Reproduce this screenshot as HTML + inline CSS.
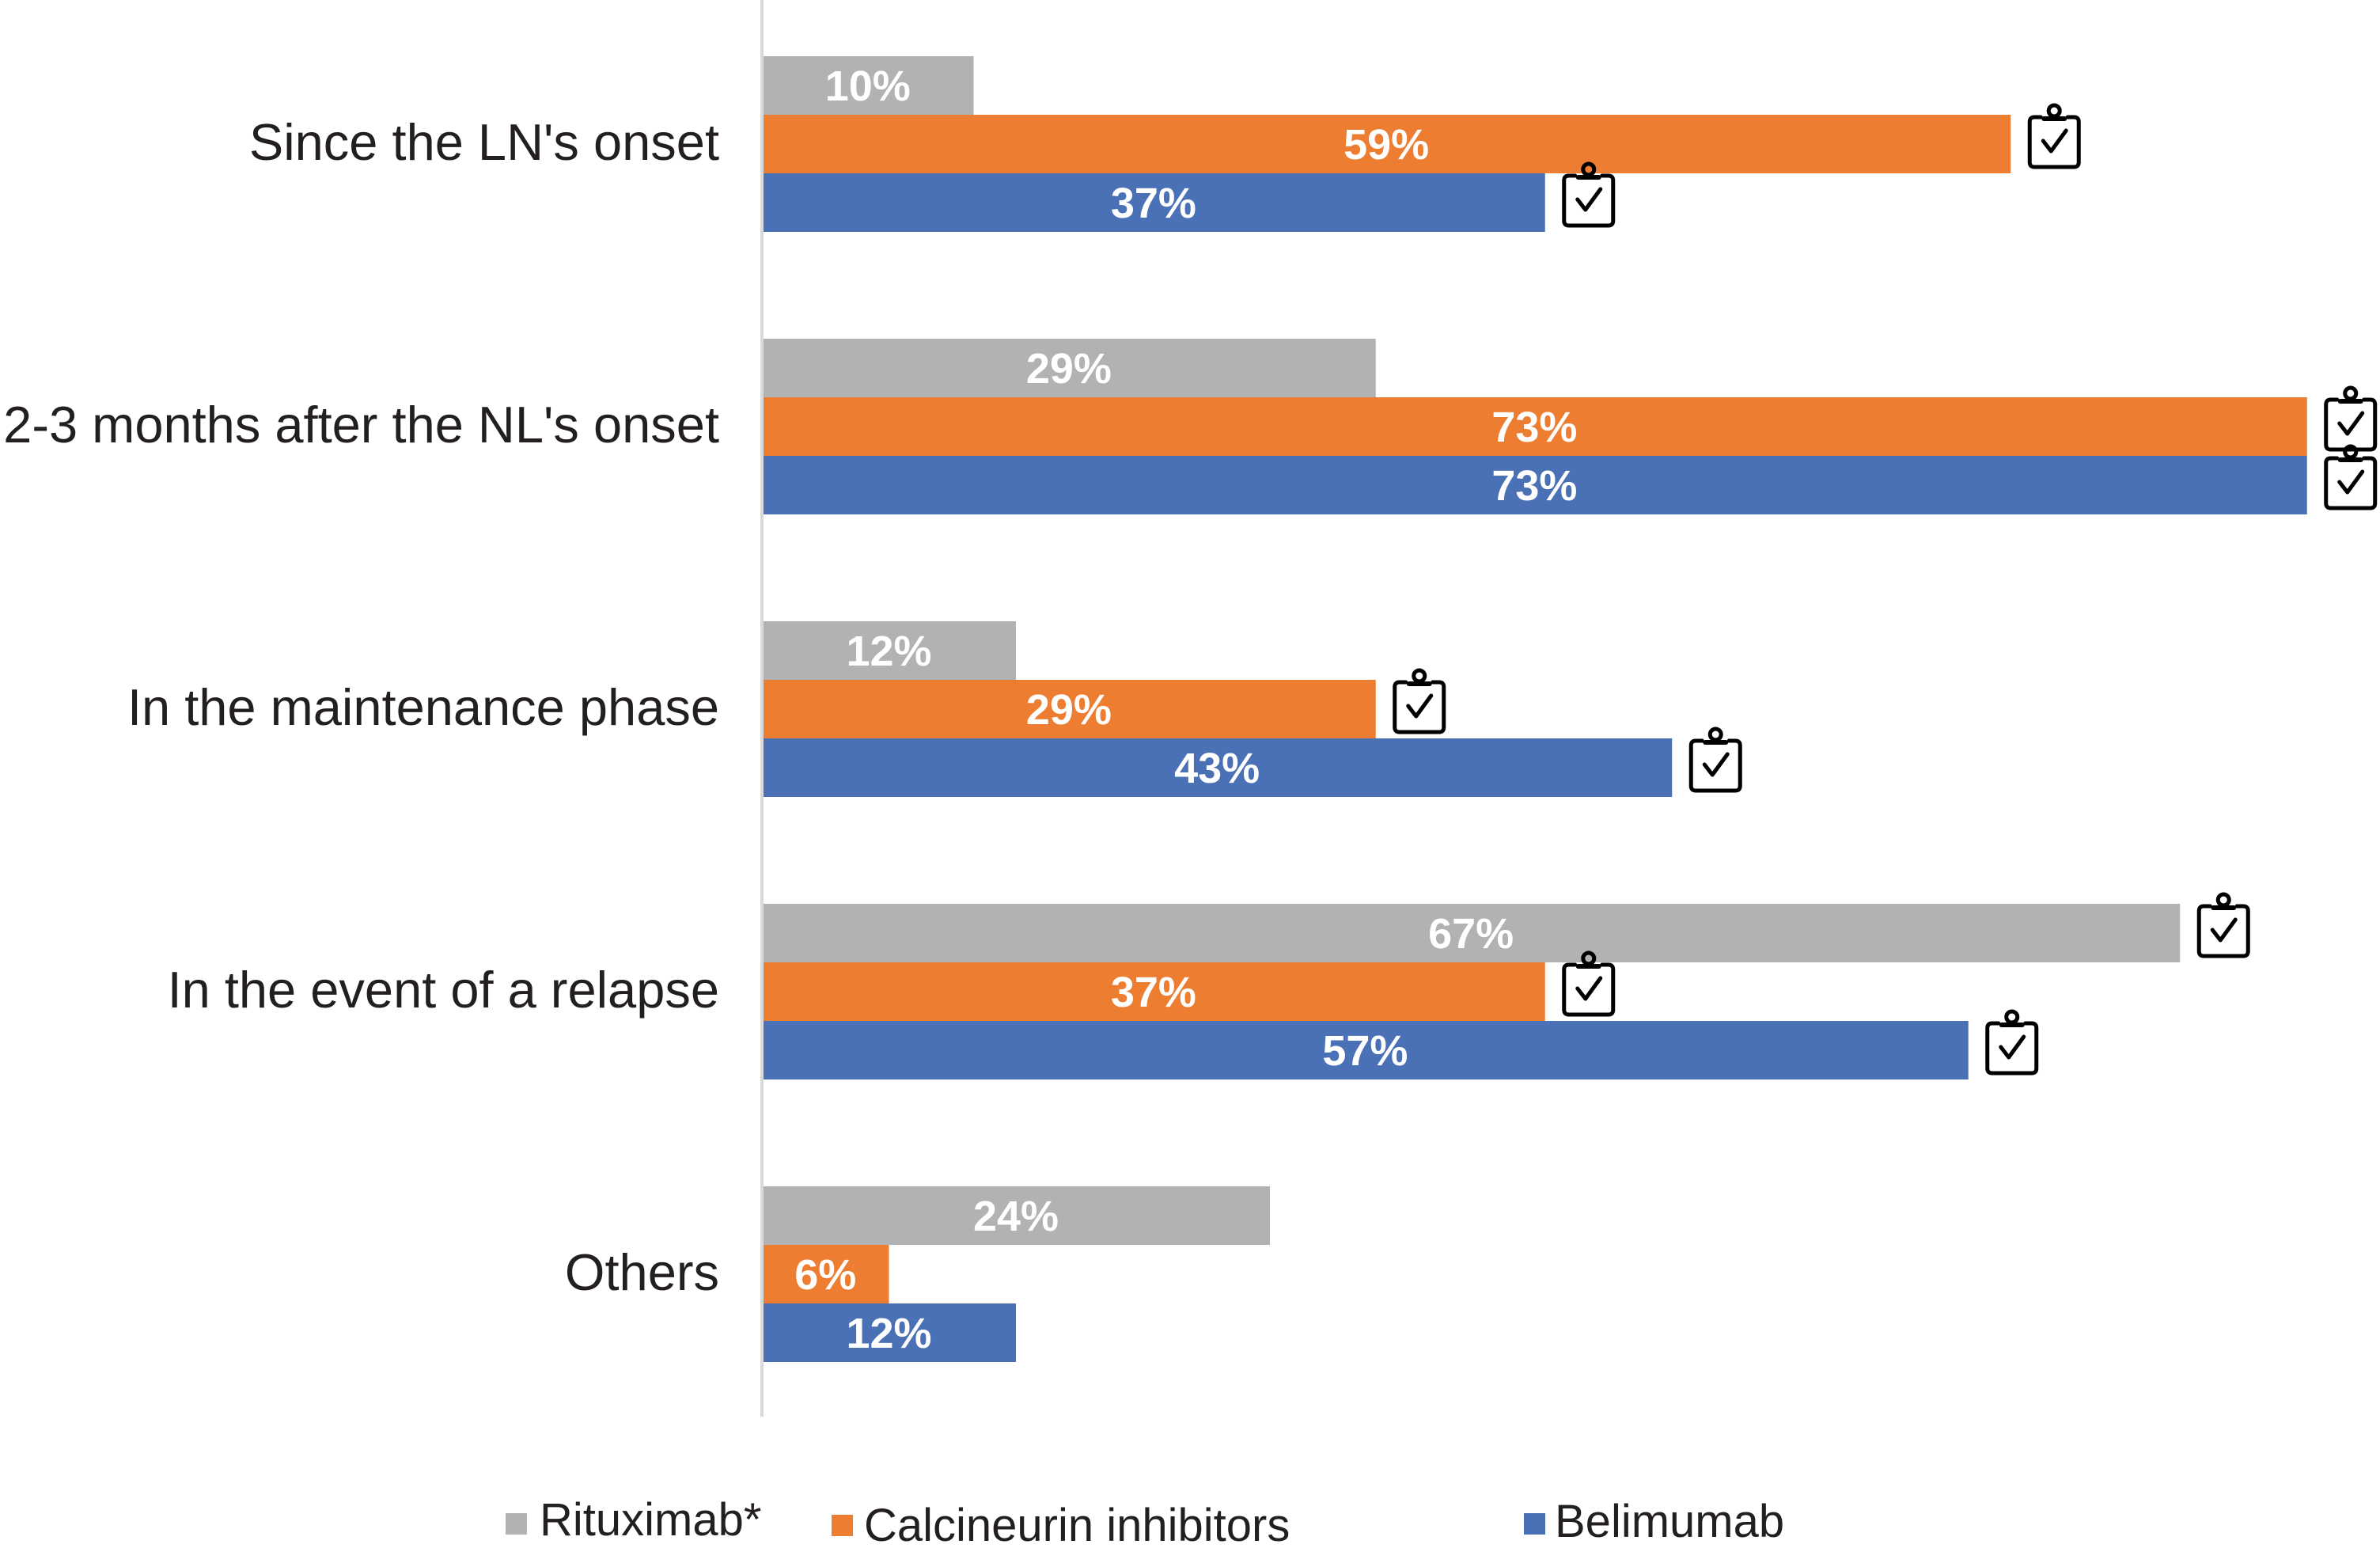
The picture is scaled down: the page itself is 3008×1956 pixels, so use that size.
<!DOCTYPE html>
<html><head><meta charset="utf-8"><style>
html,body{margin:0;padding:0;background:#fff;}
svg{display:block;}
text{font-family:"Liberation Sans",sans-serif;}
</style></head><body>
<svg id="chart" width="3008" height="1956" viewBox="0 0 3008 1956" xmlns="http://www.w3.org/2000/svg">
<line x1="963" y1="0" x2="963" y2="1790" stroke="#d9d9d9" stroke-width="4"/>
<g id="bars"></g>
<g>
  <rect x="639" y="1912" width="27" height="27" fill="#b1b2b4"/>
  <text x="682" y="1940" font-size="58" fill="#231f20">Rituximab*</text>
  <rect x="1051" y="1914" width="27" height="27" fill="#ed7d31"/>
  <text x="1092" y="1947" font-size="58" fill="#231f20">Calcineurin inhibitors</text>
  <rect x="1926" y="1912" width="27" height="27" fill="#4a70b5"/>
  <text x="1965" y="1942" font-size="58" fill="#231f20">Belimumab</text>
</g>
</svg>
<script>
const categories = ["Since the LN's onset", "2-3 months after the NL's onset", "In the maintenance phase", "In the event of a relapse", "Others"];
const rituximab = [10, 29, 12, 67, 24];
const calcineurin = [59, 73, 29, 37, 6];
const belimumab = [37, 73, 43, 57, 12];
const rituximabIcon = [0, 0, 0, 1, 0];
const calcineurinIcon = [1, 1, 1, 1, 0];
const belimumabIcon = [1, 1, 1, 1, 0];

const NS = "http://www.w3.org/2000/svg";
const x0 = 963, pxPer = 26.75;
const xScale = v => x0 + v * pxPer;
const groupTop = i => 71 + i * 357;
const barH = 74;
const series = [
  {name:"rituximab", vals:rituximab, icons:rituximabIcon, color:"#b1b2b4"},
  {name:"calcineurin", vals:calcineurin, icons:calcineurinIcon, color:"#ed7d31"},
  {name:"belimumab", vals:belimumab, icons:belimumabIcon, color:"#4a70b5"}
];
const g = document.getElementById("bars");
function mk(tag, attrs){const e=document.createElementNS(NS,tag);for(const k in attrs)e.setAttribute(k,attrs[k]);return e;}

categories.forEach((cat, i) => {
  const top = groupTop(i);
  const lbl = mk("text", {x:909, y:top + 111 + 20, "font-size":65, fill:"#231f20", "text-anchor":"end"});
  
  
  lbl.textContent = cat;
  g.appendChild(lbl);
  series.forEach((s, j) => {
    const y = top + j * barH;
    const v = s.vals[i];
    const xe = xScale(v);
    const r = mk("rect", {x:x0+2, y:y, width:Math.max(0, xe - x0 - 2), height:barH, fill:s.color});
    
    
    g.appendChild(r);
    const t = mk("text", {x:(x0 + xe) / 2, y:y + barH/2 + 19, "font-size":54, "font-weight":"bold", fill:"#fff", "text-anchor":"middle"});
    
    
    t.textContent = v + "%";
    g.appendChild(t);
    if (s.icons[i]) {
      const ix = xe + 20, iy = y - 14;
      const ic = mk("g", {transform:"translate(" + ix + "," + iy + ")", fill:"none", stroke:"#000", "stroke-width":5, "stroke-linecap":"round", "stroke-linejoin":"round"});
      
      
      ic.appendChild(mk("path", {d:"M18 17 H10 Q4 17 4 23 V74 Q4 80 10 80 H60 Q66 80 66 74 V23 Q66 17 60 17 H52"}));
      ic.appendChild(mk("line", {x1:22, y1:19, x2:48, y2:19, "stroke-width":6}));
      ic.appendChild(mk("circle", {cx:35, cy:9, r:7}));
      ic.appendChild(mk("path", {d:"M21 47 L31 60 L50 34"}));
      g.appendChild(ic);
    }
  });
});
</script>
</body></html>
